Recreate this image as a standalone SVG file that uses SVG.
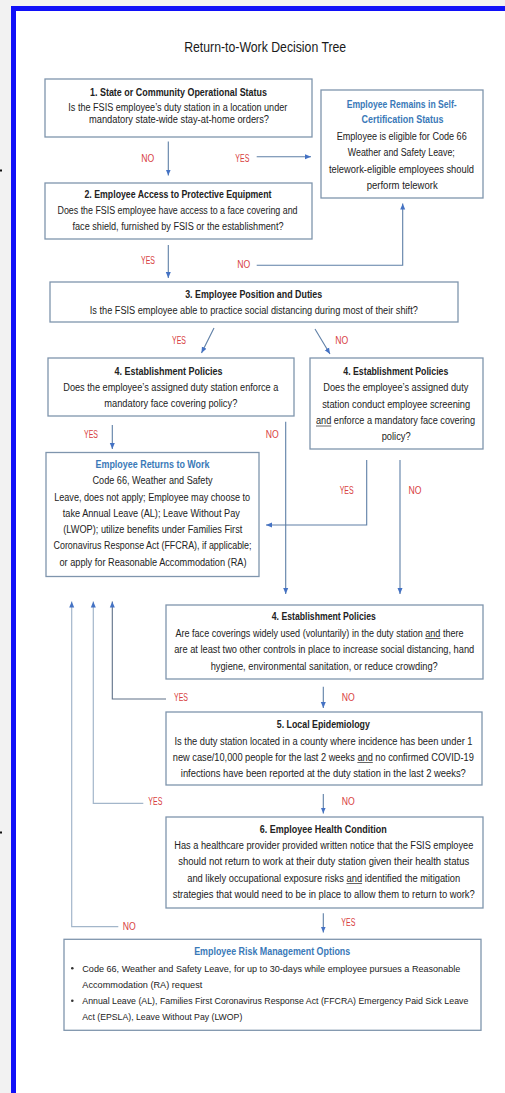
<svg xmlns="http://www.w3.org/2000/svg" width="505" height="1093" viewBox="0 0 505 1093">
<style>
text{font-family:"Liberation Sans",Arial,sans-serif;font-size:10px;fill:#222;text-anchor:middle}
.t{font-size:15px;fill:#1a1a1a}
.h{font-weight:bold}
.bl{font-weight:bold;fill:#3a79b8}
.l{fill:#d8413f;font-size:10px}
.s{text-anchor:start;font-size:8.6px}
.box{fill:#fff;stroke:#7f95ad;stroke-width:1.3}
.c{fill:none;stroke:#5e7fa6;stroke-width:1.1}
.cl{fill:none;stroke:#a3b6ca;stroke-width:1.2}
.u{stroke:#222;stroke-width:0.7}
</style>
<defs>
<marker id="a" markerUnits="userSpaceOnUse" markerWidth="7" markerHeight="6" refX="6" refY="3" orient="auto">
<path d="M0,0.5 L6,3 L0,5.5 z" fill="#4472c4"/>
</marker>
</defs>
<rect x="0" y="0" width="505" height="1093" fill="#f2f2f2"/>
<rect x="16" y="11" width="489" height="1082" fill="#fff"/>
<rect x="11" y="6" width="5" height="1087" fill="#1010f8"/>
<rect x="11" y="6" width="494" height="5" fill="#1010f8"/>
<rect x="0" y="169.5" width="2" height="2" fill="#111"/>
<rect x="0" y="831.5" width="2" height="2" fill="#111"/>

<text class="t" x="265.2" y="52" textLength="162" lengthAdjust="spacingAndGlyphs">Return-to-Work Decision Tree</text>

<g id="connectors">
<path class="c" d="M168.3,141.5 V175.5" marker-end="url(#a)"/>
<path class="c" d="M256.7,156.7 H311" marker-end="url(#a)"/>
<path class="c" d="M168.3,245 V278" marker-end="url(#a)"/>
<path class="c" d="M256.7,265.3 H402.7 V203.5" marker-end="url(#a)"/>
<path class="c" d="M214,328 L201.5,353" marker-end="url(#a)"/>
<path class="c" d="M315,329 L330,354" marker-end="url(#a)"/>
<path class="c" d="M112.3,425 V449" marker-end="url(#a)"/>
<path class="c" d="M285.7,421.7 V594" marker-end="url(#a)"/>
<path class="c" d="M366.7,460 V525 H266" marker-end="url(#a)"/>
<path class="c" d="M400,460 V594" marker-end="url(#a)"/>
<path class="c" d="M166,699 H112.3 V601.5" marker-end="url(#a)" style="stroke:#5f7088"/>
<path class="cl" d="M143.3,803.3 H93.3 V601.5" marker-end="url(#a)"/>
<path class="cl" d="M118.3,926.7 H71.7 V601.5" marker-end="url(#a)"/>
<path class="c" d="M323.3,686.7 V708" marker-end="url(#a)"/>
<path class="c" d="M323.3,794 V813.5" marker-end="url(#a)"/>
<path class="c" d="M323.3,913.3 V932.5" marker-end="url(#a)"/>
<text class="l" x="147.7" y="161.5" textLength="13" lengthAdjust="spacingAndGlyphs">NO</text>
<text class="l" x="242.3" y="161.5" textLength="14" lengthAdjust="spacingAndGlyphs">YES</text>
<text class="l" x="148" y="264" textLength="14" lengthAdjust="spacingAndGlyphs">YES</text>
<text class="l" x="243.7" y="267.5" textLength="13" lengthAdjust="spacingAndGlyphs">NO</text>
<text class="l" x="179" y="343.5" textLength="14" lengthAdjust="spacingAndGlyphs">YES</text>
<text class="l" x="341.7" y="343.5" textLength="13" lengthAdjust="spacingAndGlyphs">NO</text>
<text class="l" x="91" y="437.5" textLength="14" lengthAdjust="spacingAndGlyphs">YES</text>
<text class="l" x="272.3" y="437.5" textLength="13" lengthAdjust="spacingAndGlyphs">NO</text>
<text class="l" x="346.7" y="493.5" textLength="14" lengthAdjust="spacingAndGlyphs">YES</text>
<text class="l" x="415" y="493.5" textLength="13" lengthAdjust="spacingAndGlyphs">NO</text>
<text class="l" x="181" y="700.5" textLength="14" lengthAdjust="spacingAndGlyphs">YES</text>
<text class="l" x="348.3" y="700.5" textLength="13" lengthAdjust="spacingAndGlyphs">NO</text>
<text class="l" x="155.3" y="805" textLength="14" lengthAdjust="spacingAndGlyphs">YES</text>
<text class="l" x="348.3" y="805" textLength="13" lengthAdjust="spacingAndGlyphs">NO</text>
<text class="l" x="348.3" y="926" textLength="14" lengthAdjust="spacingAndGlyphs">YES</text>
<text class="l" x="129.3" y="930" textLength="13" lengthAdjust="spacingAndGlyphs">NO</text>
</g>

<g id="n1">
<rect class="box" x="45" y="79" width="267" height="58"/>
<text class="h" x="178.5" y="96" textLength="177" lengthAdjust="spacingAndGlyphs">1. State or Community Operational Status</text>
<text x="177.8" y="111" textLength="219" lengthAdjust="spacingAndGlyphs">Is the FSIS employee’s duty station in a location under</text>
<text x="179" y="123" textLength="180" lengthAdjust="spacingAndGlyphs">mandatory  state-wide stay-at-home orders?</text>
</g>

<g id="selfcert">
<rect class="box" x="321" y="90" width="162" height="108"/>
<text class="bl" x="401.7" y="107.5" textLength="110" lengthAdjust="spacingAndGlyphs">Employee Remains in Self-</text>
<text class="bl" x="402.5" y="123" textLength="82" lengthAdjust="spacingAndGlyphs">Certification Status</text>
<text x="401.7" y="139.5" textLength="130" lengthAdjust="spacingAndGlyphs">Employee is eligible for Code 66</text>
<text x="401.3" y="156" textLength="107" lengthAdjust="spacingAndGlyphs">Weather and Safety Leave;</text>
<text x="401.5" y="172.5" textLength="145" lengthAdjust="spacingAndGlyphs">telework-eligible employees should</text>
<text x="402.2" y="188.5" textLength="71" lengthAdjust="spacingAndGlyphs">perform  telework</text>
</g>

<g id="n2">
<rect class="box" x="45" y="183" width="267" height="56"/>
<text class="h" x="178" y="197.5" textLength="187" lengthAdjust="spacingAndGlyphs">2. Employee Access to Protective Equipment</text>
<text x="177.5" y="214" textLength="240" lengthAdjust="spacingAndGlyphs">Does the FSIS employee have access to a face covering and</text>
<text x="178" y="230" textLength="211" lengthAdjust="spacingAndGlyphs">face shield, furnished by FSIS or the establishment?</text>
</g>

<g id="n3">
<rect class="box" x="50" y="282" width="408" height="40"/>
<text class="h" x="253.7" y="297.5" textLength="137" lengthAdjust="spacingAndGlyphs">3. Employee Position and Duties</text>
<text x="253.8" y="313.5" textLength="328" lengthAdjust="spacingAndGlyphs">Is the FSIS employee able to practice social distancing during most of their shift?</text>
</g>

<g id="n4a">
<rect class="box" x="48" y="358" width="246" height="58"/>
<text class="h" x="168.5" y="375" textLength="108" lengthAdjust="spacingAndGlyphs">4. Establishment Policies</text>
<text x="170.8" y="391" textLength="215" lengthAdjust="spacingAndGlyphs">Does the employee’s assigned duty station enforce a</text>
<text x="170.8" y="407" textLength="133" lengthAdjust="spacingAndGlyphs">mandatory  face covering policy?</text>
</g>

<g id="n4b">
<rect class="box" x="310" y="358" width="173" height="91"/>
<text class="h" x="395.8" y="375" textLength="105" lengthAdjust="spacingAndGlyphs">4. Establishment Policies</text>
<text x="395.8" y="391" textLength="145" lengthAdjust="spacingAndGlyphs">Does the  employee’s assigned duty</text>
<text x="396.2" y="407.5" textLength="148" lengthAdjust="spacingAndGlyphs">station conduct  employee screening</text>
<text x="395.5" y="424" textLength="159" lengthAdjust="spacingAndGlyphs">and enforce a mandatory  face covering</text>
<line class="u" x1="316" y1="426" x2="331.3" y2="426"/>
<text x="396.2" y="440" textLength="29" lengthAdjust="spacingAndGlyphs">policy?</text>
</g>

<g id="rtw">
<rect class="box" x="46" y="452.5" width="213" height="124"/>
<text class="bl" x="152.5" y="467.5" textLength="114" lengthAdjust="spacingAndGlyphs">Employee Returns to Work</text>
<text x="152.5" y="484" textLength="120" lengthAdjust="spacingAndGlyphs">Code 66, Weather and Safety</text>
<text x="152.2" y="500.5" textLength="196" lengthAdjust="spacingAndGlyphs">Leave, does not apply; Employee may choose to</text>
<text x="151.3" y="517" textLength="177" lengthAdjust="spacingAndGlyphs">take Annual  Leave (AL); Leave Without Pay</text>
<text x="152.8" y="533" textLength="179" lengthAdjust="spacingAndGlyphs">(LWOP); utilize benefits under Families First</text>
<text x="152.5" y="549" textLength="198" lengthAdjust="spacingAndGlyphs">Coronavirus Response Act (FFCRA), if applicable;</text>
<text x="153" y="565.5" textLength="187" lengthAdjust="spacingAndGlyphs">or apply for Reasonable Accommodation  (RA)</text>
</g>

<g id="n4c">
<rect class="box" x="166" y="605" width="317" height="74"/>
<text class="h" x="323.8" y="620" textLength="104" lengthAdjust="spacingAndGlyphs">4. Establishment Policies</text>
<text x="319.5" y="636.5" textLength="288" lengthAdjust="spacingAndGlyphs">Are face coverings widely used (voluntarily) in the duty station and there</text>
<line class="u" x1="425.3" y1="638.5" x2="440.4" y2="638.5"/>
<text x="324.2" y="653" textLength="300" lengthAdjust="spacingAndGlyphs">are at least two other  controls in place to increase social distancing, hand</text>
<text x="324.2" y="669.5" textLength="227" lengthAdjust="spacingAndGlyphs">hygiene, environmental  sanitation, or reduce crowding?</text>
</g>

<g id="n5">
<rect class="box" x="166" y="712" width="316" height="73"/>
<text class="h" x="323.3" y="728" textLength="93" lengthAdjust="spacingAndGlyphs">5. Local Epidemiology</text>
<text x="323.5" y="744.5" textLength="298" lengthAdjust="spacingAndGlyphs">Is the duty station located in a county where incidence has been under 1</text>
<text x="323.3" y="760.5" textLength="301" lengthAdjust="spacingAndGlyphs">new case/10,000 people for the last 2 weeks and no confirmed COVID-19</text>
<line class="u" x1="357.4" y1="762.5" x2="372.8" y2="762.5"/>
<text x="323.3" y="776.5" textLength="285" lengthAdjust="spacingAndGlyphs">infections have been reported at the duty station in the last 2 weeks?</text>
</g>

<g id="n6">
<rect class="box" x="166" y="817" width="317" height="91"/>
<text class="h" x="323.3" y="833" textLength="127" lengthAdjust="spacingAndGlyphs">6. Employee Health Condition</text>
<text x="323.8" y="849" textLength="299" lengthAdjust="spacingAndGlyphs">Has a healthcare provider provided written notice that the FSIS employee</text>
<text x="323.7" y="865" textLength="291" lengthAdjust="spacingAndGlyphs">should not return to work at their duty station given their health status</text>
<text x="323.7" y="881.5" textLength="273" lengthAdjust="spacingAndGlyphs">and likely occupational exposure risks and identified the mitigation</text>
<line class="u" x1="346.5" y1="883.5" x2="362.1" y2="883.5"/>
<text x="323.8" y="898" textLength="302" lengthAdjust="spacingAndGlyphs">strategies that would need to be in place to allow them to return to work?</text>
</g>

<g id="risk">
<rect class="box" x="64" y="939.3" width="417" height="91"/>
<text class="bl" x="272.2" y="954.5" textLength="156" lengthAdjust="spacingAndGlyphs">Employee Risk Management Options</text>
<circle cx="72.3" cy="968.3" r="1.3" fill="#333"/>
<circle cx="72.3" cy="1000.7" r="1.3" fill="#333"/>
<text class="s" x="82.3" y="971.5" textLength="378" lengthAdjust="spacingAndGlyphs">Code 66, Weather and Safety Leave, for up to 30-days while employee pursues a Reasonable</text>
<text class="s" x="82.3" y="987.5" textLength="120" lengthAdjust="spacingAndGlyphs">Accommodation  (RA) request</text>
<text class="s" x="82.3" y="1004" textLength="386" lengthAdjust="spacingAndGlyphs">Annual Leave (AL), Families First Coronavirus Response Act (FFCRA) Emergency Paid Sick Leave</text>
<text class="s" x="82.3" y="1020" textLength="160" lengthAdjust="spacingAndGlyphs">Act (EPSLA), Leave Without Pay (LWOP)</text>
</g>
</svg>
